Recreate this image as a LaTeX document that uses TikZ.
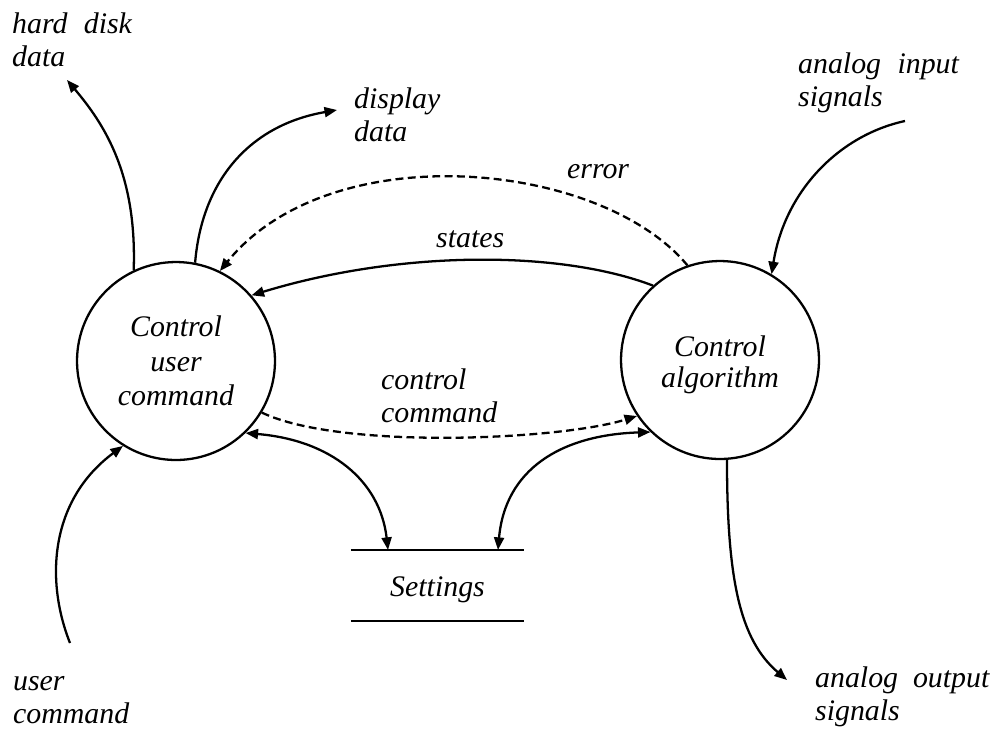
\documentclass[tikz,border=0pt]{standalone}
\usepackage{fontspec}
\setmainfont{Liberation Serif}
\usetikzlibrary{arrows.meta}
\begin{document}
\begin{tikzpicture}[x=0.02cm,y=-0.02cm,
  line width=1.3pt,
  >={Triangle[length=0.25cm,width=0.2cm]},
  proc/.style={draw,circle,minimum size=3.96cm,inner sep=0pt,align=center,
    font=\itshape\fontsize{17}{19.6}\selectfont},
  lbl/.style={inner sep=0pt,align=left,font=\itshape\fontsize{17}{18.8}\selectfont},
  flow/.style={->},
  dflow/.style={->,dash pattern=on 4.5pt off 2.5pt},
]
\useasboundingbox (0,0) rectangle (1000,728);
% processes
\node[proc] (L) at (176,361) {Control\\user\\command};
\node[proc,font=\itshape\fontsize{17}{17.6}\selectfont] (R) at (720,360)
  {\rule{0pt}{0.6cm}Control\\algorithm};
% data store
\node[minimum width=3.42cm,minimum height=1.38cm,inner sep=0pt,
  text height=0.56cm,text depth=0.14cm,
  font=\itshape\fontsize{17}{19}\selectfont] (S) at (437.5,585.5) {Settings};
\draw (S.north west) -- (S.north east);
\draw (S.south west) -- (S.south east);
% labels
\node[lbl,anchor=north west] (hd) at (11,11.5) {hard\hspace{0.55em}disk\\data};
\node[lbl,anchor=north west] (dd) at (353,86.5) {display\\data};
\node[lbl,anchor=north west] (ai) at (797,51.5) {analog\hspace{0.55em}input\\signals};
\node[lbl,anchor=north west] (uc) at (12,675) {user\\command};
\node[lbl,anchor=north west] (ao) at (814,666) {analog\hspace{0.5em}output\\signals};
\node[lbl,anchor=north west] (cc) at (380,367.5) {control\\command};
\node[lbl,anchor=base west] (err) at (566,178) {error};
\node[lbl,anchor=base west] (st) at (435,247) {states};
% free ends
\coordinate (hdE) at (67,80);
\coordinate (ddE) at (337,110);
\coordinate (aiS) at (905,121);
\coordinate (ucS) at (70,643);
\coordinate (aoE) at (787,680);
% connectors
\draw[flow] (L.115) .. controls (137,175) and (105,125) .. (hdE);
\draw[flow] (L.79) .. controls (202,180) and (250,125) .. (ddE);
\draw[dflow] (R.109) .. controls (600,160) and (330,135) .. (L.64);
\draw[flow] (R.132) .. controls (560,250) and (400,250) .. (L.41);
\draw[dflow] (L.-31) .. controls (340,450) and (560,440) .. (R.214);
\draw[<->] (L.-46) .. controls (330,440) and (380,480) .. ([xshift=-0.99cm]S.north);
\draw[<->] (R.226.6) .. controls (560,435) and (505,470) .. ([xshift=1.21cm]S.north);
\draw[flow] (ucS) .. controls (45,580) and (50,500) .. (L.-122);
\draw[flow] (aiS) .. controls (840,135) and (785,190) .. (R.59.4);
\draw[flow] (R.-86) .. controls (727,580) and (740,640) .. (aoE);
\end{tikzpicture}
\end{document}
